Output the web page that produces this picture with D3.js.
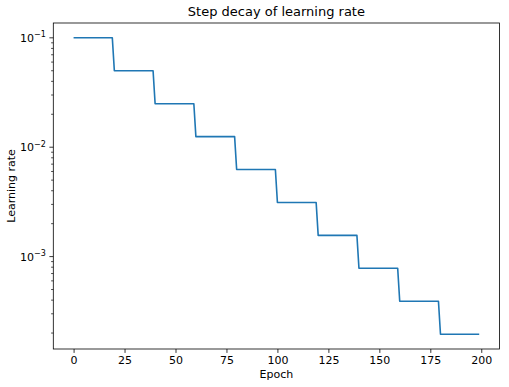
<!DOCTYPE html>
<html>
<head>
<meta charset="utf-8">
<script src="https://cdn.jsdelivr.net/npm/d3@7"></script>
<style>
	body { margin: 0; background: #fff; }
	text { font-family: 'DejaVu Sans', sans-serif; fill: #000; }
</style>
</head>
<body>
<div id="chart"></div>
<script>
// break points of the step schedule
const epochs = [0, 19, 20, 39, 40, 59, 60, 79, 80, 99, 100, 119, 120, 139, 140, 159, 160, 179, 180, 199]
const rates = [
	0.1, 0.1, 0.05, 0.05, 0.025, 0.025, 0.0125, 0.0125, 0.00625, 0.00625,
	0.003125, 0.003125, 0.0015625, 0.0015625, 0.00078125, 0.00078125,
	0.000390625, 0.000390625, 0.0001953125, 0.0001953125
]
const xTicks = [0, 25, 50, 75, 100, 125, 150, 175, 200]
const yTicks = [1e-3, 1e-2, 1e-1]
const yTickExp = ['−3', '−2', '−1']

const width = 509
const height = 387
const margin = { top: 23, right: 9.5, bottom: 38, left: 53.3 }

const svg = d3
	.select('#chart')
	.append('svg')
	.attr('width', width)
	.attr('height', height)

// matplotlib style 5% padding around the data
const xPad = (d3.max(epochs) - d3.min(epochs)) * 0.05
const x = d3
	.scaleLinear()
	.domain([d3.min(epochs) - xPad, d3.max(epochs) + xPad])
	.range([margin.left, width - margin.right])

const lmin = Math.log10(d3.min(rates))
const lmax = Math.log10(d3.max(rates))
const lPad = (lmax - lmin) * 0.05
const y = d3
	.scaleLog()
	.domain([Math.pow(10, lmin - lPad), Math.pow(10, lmax + lPad)])
	.range([height - margin.bottom, margin.top])

const xAxis = g =>
	g
		.attr('transform', `translate(0,${height - margin.bottom})`)
		.call(d3.axisBottom(x).tickValues(xTicks).tickSize(3.9).tickPadding(3.5))
		.call(g => g.select('.domain').remove())

svg.append('g').call(xAxis)

// minor ticks on the log axis
const minor = []
for (let e = -4; e <= -1; e++) {
	for (let m = 2; m <= 9; m++) {
		const v = m * Math.pow(10, e)
		if (v >= y.domain()[0] && v <= y.domain()[1]) minor.push(v)
	}
}

const yAxis = svg.append('g').attr('transform', `translate(${margin.left},0)`)

yAxis
	.selectAll('line.minor')
	.data(minor)
	.enter()
	.append('line')
	.attr('x1', 0)
	.attr('x2', -2.2)
	.attr('y1', d => y(d))
	.attr('y2', d => y(d))
	.attr('stroke', '#000')
	.attr('stroke-width', 0.7)

yAxis
	.selectAll('line.major')
	.data(yTicks)
	.enter()
	.append('line')
	.attr('x1', 0)
	.attr('x2', -3.9)
	.attr('y1', d => y(d))
	.attr('y2', d => y(d))
	.attr('stroke', '#000')
	.attr('stroke-width', 0.8)

const yLabel = yAxis
	.selectAll('text.tick')
	.data(yTicks)
	.enter()
	.append('text')
	.attr('x', -7.5)
	.attr('y', d => y(d) + 4)
	.attr('text-anchor', 'end')
	.style('font-size', '11px')

yLabel.append('tspan').text('10')
yLabel
	.append('tspan')
	.attr('dy', -4.5)
	.style('font-size', '8px')
	.text((d, i) => yTickExp[i])

svg
	.selectAll('.tick text')
	.style('font-size', '11px')
	.style('font-family', 'DejaVu Sans, sans-serif')
	.attr('fill', '#000')

svg.selectAll('.tick line').attr('stroke', '#000').attr('stroke-width', 0.8)

const line = d3
	.line()
	.x((d, i) => x(epochs[i]))
	.y(d => y(d))

svg
	.append('path')
	.datum(rates)
	.attr('d', line)
	.attr('fill', 'none')
	.attr('stroke', '#1f77b4')
	.attr('stroke-width', 1.6)
	.attr('stroke-linejoin', 'round')

// frame
svg
	.append('rect')
	.attr('x', margin.left)
	.attr('y', margin.top)
	.attr('width', width - margin.left - margin.right)
	.attr('height', height - margin.top - margin.bottom)
	.attr('fill', 'none')
	.attr('stroke', '#000')
	.attr('stroke-width', 0.8)

svg
	.append('text')
	.attr('x', (margin.left + width - margin.right) / 2)
	.attr('y', 15.5)
	.attr('text-anchor', 'middle')
	.style('font-size', '13px')
	.text('Step decay of learning rate')

svg
	.append('text')
	.attr('x', (margin.left + width - margin.right) / 2)
	.attr('y', 377.5)
	.attr('text-anchor', 'middle')
	.style('font-size', '11px')
	.text('Epoch')

svg
	.append('text')
	.attr('transform', `translate(15,${(margin.top + height - margin.bottom) / 2}) rotate(-90)`)
	.attr('text-anchor', 'middle')
	.style('font-size', '11px')
	.text('Learning rate')
</script>
</body>
</html>
